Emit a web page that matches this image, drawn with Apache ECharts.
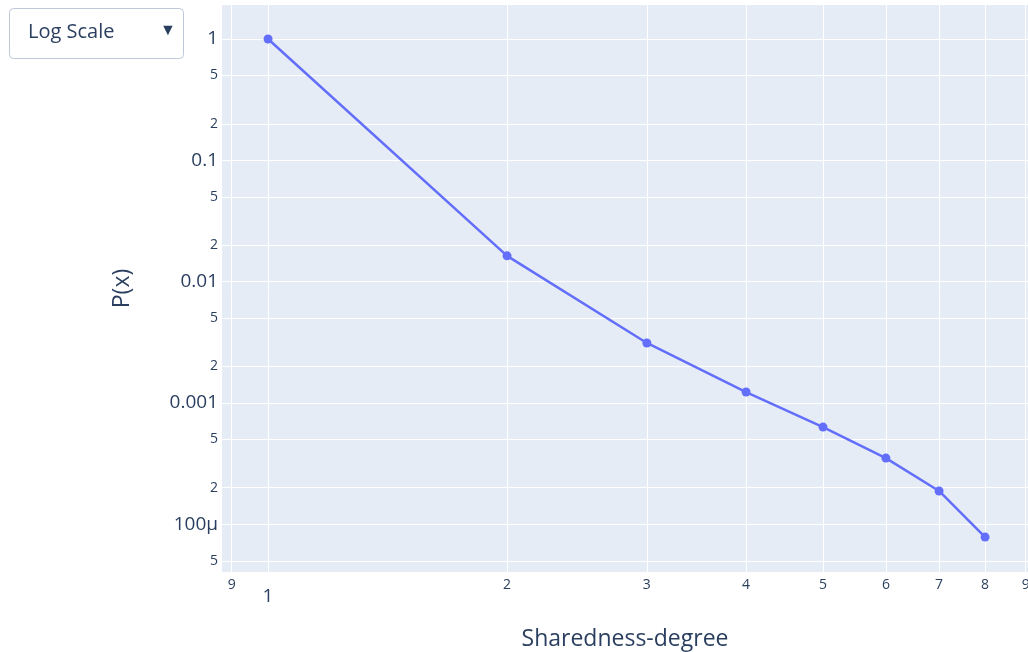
<!DOCTYPE html>
<html>
<head>
<meta charset="utf-8">
<script src="https://cdn.jsdelivr.net/npm/echarts@6/dist/echarts.min.js"></script>
<style>
html,body{margin:0;padding:0;background:#fff;}
#chart{width:1028px;height:652px;}
</style>
</head>
<body>
<div id="chart"></div>
<script>
// ---- data ----
var xValues = [1, 2, 3, 4, 5, 6, 7, 8];
var yValues = [1.0, 0.0163, 0.00312, 0.00123, 0.000632, 0.000351, 0.000188, 0.0000784];

var xMajorTicks = [1];
var xMajorLabels = ['1'];
var xMinorTicks = [0.9, 2, 3, 4, 5, 6, 7, 8, 9];
var xMinorLabels = ['9', '2', '3', '4', '5', '6', '7', '8', '9'];

var yMajorTicks = [1, 0.1, 0.01, 0.001, 0.0001];
var yMajorLabels = ['1', '0.1', '0.01', '0.001', '100\u03bc'];
var yMinorTicks = [0.5, 0.2, 0.05, 0.02, 0.005, 0.002, 0.0005, 0.0002, 0.00005];
var yMinorLabels = ['5', '2', '5', '2', '5', '2', '5', '2', '5'];

var xRange = [0.875, 9.06];
var yRange = [0.0000404, 1.905];

// ---- styling ----
var FONT = '"Open Sans", Verdana, Arial, sans-serif';
var TEXT = '#2a3f5f';
var GRID = '#ffffff';

function lineItem(axisKey, v, txt, size, dist) {
  var d = {};
  d[axisKey] = v;
  d.name = txt;
  d.label = {show: true, position: 'start', formatter: txt, color: TEXT,
             fontFamily: FONT, fontSize: size, distance: dist};
  return d;
}

var markData = [];
xMajorTicks.forEach(function (v, i) { markData.push(lineItem('xAxis', v, xMajorLabels[i], 19, 15)); });
xMinorTicks.forEach(function (v, i) { markData.push(lineItem('xAxis', v, xMinorLabels[i], 14, 6)); });
yMajorTicks.forEach(function (v, i) { markData.push(lineItem('yAxis', v, yMajorLabels[i], 19, 4)); });
yMinorTicks.forEach(function (v, i) { markData.push(lineItem('yAxis', v, yMinorLabels[i], 14, 4)); });

var chart = echarts.init(document.getElementById('chart'), null, {renderer: 'canvas'});
chart.setOption({
  animation: false,
  textStyle: {fontFamily: FONT, color: TEXT},
  grid: {left: 222, top: 5, right: 0, bottom: 80, containLabel: false, outerBoundsMode: 'none',
         show: true, backgroundColor: '#E5ECF6', borderWidth: 0},
  xAxis: {
    type: 'log', logBase: 10, min: xRange[0], max: xRange[1],
    axisLine: {show: false}, axisTick: {show: false},
    axisLabel: {show: false}, splitLine: {show: false},
    name: 'Sharedness-degree', nameLocation: 'middle', nameGap: 67,
    nameTextStyle: {fontSize: 23, color: TEXT, fontFamily: FONT, verticalAlign: 'middle'}
  },
  yAxis: {
    type: 'log', logBase: 10, min: yRange[0], max: yRange[1],
    axisLine: {show: false}, axisTick: {show: false},
    axisLabel: {show: false}, splitLine: {show: false},
    name: 'P(x)', nameLocation: 'middle', nameGap: 100, nameRotate: 90,
    nameTextStyle: {fontSize: 23, color: TEXT, fontFamily: FONT, verticalAlign: 'middle'}
  },
  series: [{
    type: 'line',
    data: xValues.map(function (x, i) { return [x, yValues[i]]; }),
    z: 5,
    symbol: 'circle', symbolSize: 9,
    lineStyle: {color: '#636EFA', width: 2.5},
    itemStyle: {color: '#636EFA'},
    markLine: {
      silent: true, symbol: 'none', z: 1, animation: false, precision: 10,
      lineStyle: {color: GRID, width: 1, type: 'solid'},
      emphasis: {disabled: true},
      data: markData
    }
  }],
  graphic: [
    {type: 'rect', left: 9, top: 8, shape: {width: 174, height: 50, r: 4},
     style: {fill: '#ffffff', stroke: '#BEC8D9', lineWidth: 1}},
    {type: 'text', x: 28, y: 32, style: {text: 'Log Scale', fill: TEXT, font: '20px ' + FONT, verticalAlign: 'middle'}},
    {type: 'text', x: 160, y: 30, style: {text: '\u25bc', fill: TEXT, font: '16px ' + FONT, verticalAlign: 'middle'}}
  ]
});
</script>
</body>
</html>
